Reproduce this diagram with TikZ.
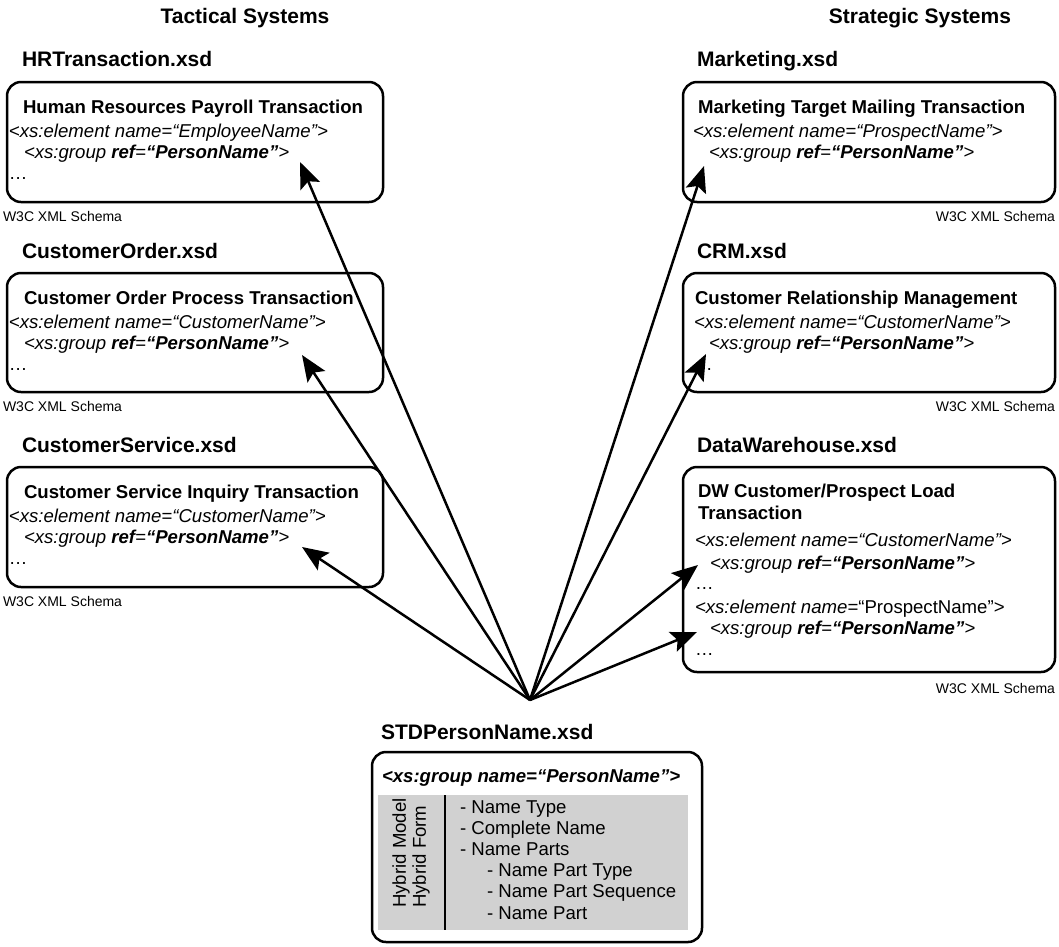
\documentclass[tikz,border=0pt]{standalone}
\usepackage{fontspec}
\setmainfont{Liberation Sans}
\usetikzlibrary{arrows.meta}

% recurring XML fragments
\newcommand\grpref{\textit{<xs:group \textbf{ref}=\textbf{“PersonName”}>}}
\newcommand\elemname[1]{\textit{<xs:element name=“#1”>}}

\begin{document}
\begin{tikzpicture}[x=1pt,y=-1pt,
  schemabox/.style={draw, line width=2.5pt, rounded corners=14pt, minimum width=372pt,
    inner sep=0, outer sep=0, anchor=north west},
  txt/.style={anchor=base west, inner sep=0, outer sep=0, font=\fontsize{18.6}{22}\selectfont},
  ttl/.style={txt, font=\bfseries\fontsize{18.6}{22}\selectfont},
  fname/.style={anchor=base west, inner sep=0, outer sep=0, font=\bfseries\fontsize{21}{25}\selectfont},
  sysname/.style={anchor=base, inner sep=0, outer sep=0, font=\bfseries\fontsize{21}{25}\selectfont},
  w3c/.style={inner sep=0, outer sep=0, font=\fontsize{14}{16}\selectfont},
  link/.style={line width=2.5pt, -{Stealth[length=26pt,width=21pt,inset=5pt]}},
]
\useasboundingbox (0,0) rectangle (1059,946);

% column headings
\node[sysname] (tac) at (245,23) {Tactical Systems};
\node[sysname] (str) at (920,23) {Strategic Systems};

% ---------- tactical systems (left column) ----------
\node[fname] (hrF) at (22,66) {HRTransaction.xsd};
\node[schemabox, minimum width=376pt, minimum height=120pt] (hr) at (7,82) {};
\node[ttl] (hrT) at (23,113) {Human Resources Payroll Transaction};
\node[txt] (hrE) at (9,137) {\elemname{EmployeeName}};
\node[txt] (hrG) at (24,158) {\grpref};
\node[txt] (hrD) at (9,179) {…};
\node[w3c, anchor=base west] (hrW) at (3,221) {W3C XML Schema};

\node[fname] (coF) at (22,258) {CustomerOrder.xsd};
\node[schemabox, minimum width=376pt, minimum height=119pt] (co) at (7,273) {};
\node[ttl] (coT) at (24,304) {Customer Order Process Transaction};
\node[txt] (coE) at (9,328) {\elemname{CustomerName}};
\node[txt] (coG) at (24,349) {\grpref};
\node[txt] (coD) at (9,370) {…};
\node[w3c, anchor=base west] (coW) at (3,411) {W3C XML Schema};

\node[fname] (csF) at (22,452) {CustomerService.xsd};
\node[schemabox, minimum width=376pt, minimum height=120pt] (cs) at (7,467) {};
\node[ttl] (csT) at (24,498) {Customer Service Inquiry Transaction};
\node[txt] (csE) at (9,522) {\elemname{CustomerName}};
\node[txt] (csG) at (24,543) {\grpref};
\node[txt] (csD) at (9,564) {…};
\node[w3c, anchor=base west] (csW) at (3,606) {W3C XML Schema};

% ---------- strategic systems (right column) ----------
\node[fname] (mkF) at (697,66) {Marketing.xsd};
\node[schemabox, minimum height=120pt] (mk) at (683,82) {};
\node[ttl] (mkT) at (698,113) {Marketing Target Mailing Transaction};
\node[txt] (mkE) at (693,137) {\elemname{ProspectName}};
\node[txt] (mkG) at (709,158) {\grpref};
\node[w3c, anchor=base east] (mkW) at (1055,221) {W3C XML Schema};

\node[fname] (crF) at (697,258) {CRM.xsd};
\node[schemabox, minimum height=119pt] (cr) at (683,273) {};
\node[ttl] (crT) at (695,304) {Customer Relationship Management};
\node[txt] (crE) at (694,328) {\elemname{CustomerName}};
\node[txt] (crG) at (709,349) {\grpref};
\node[txt] (crD) at (694,370) {…};
\node[w3c, anchor=base east] (crW) at (1055,411) {W3C XML Schema};

\node[fname] (dwF) at (697,452) {DataWarehouse.xsd};
\node[schemabox, minimum height=205pt] (dw) at (683,467) {};
\node[ttl] (dwT1) at (698,497) {DW Customer/Prospect Load};
\node[ttl] (dwT2) at (698,519) {Transaction};
\node[txt] (dwE1) at (695,546) {\elemname{CustomerName}};
\node[txt] (dwG1) at (710,569) {\grpref};
\node[txt] (dwD1) at (695,589) {…};
\node[txt] (dwE2) at (695,613) {\textit{<xs:element name=}“ProspectName”>};
\node[txt] (dwG2) at (710,634) {\grpref};
\node[txt] (dwD2) at (695,655) {…};
\node[w3c, anchor=base east] (dwW) at (1055,693) {W3C XML Schema};

% ---------- shared person-name schema ----------
\node[fname] (stdF) at (381,739) {STDPersonName.xsd};
\node[schemabox, minimum width=330pt, minimum height=190pt] (std) at (372,752) {};
\node[ttl] (stdT) at (382,782) {\textbf{\textit{<xs:group name=“PersonName”>}}};
\node[fill=black!18, inner sep=0, outer sep=0, minimum width=310pt, minimum height=135pt,
  anchor=north west] (form) at (378,795) {};
\draw[line width=1.2pt] (form.north west -| 445,0) coordinate (sepT) -- (form.south west -| 445,0) coordinate (sepB);
\node[rotate=90, anchor=west, align=left, inner sep=0, font=\fontsize{18.6}{20}\selectfont]
  (hyb) at (411,908) {Hybrid Model\\Hybrid Form};
\node[txt] (n1) at (460,813) {- Name Type};
\node[txt] (n2) at (460,834.2) {- Complete Name};
\node[txt] (n3) at (460,855.4) {- Name Parts};
\node[txt] (n4) at (487,876.6) {- Name Part Type};
\node[txt] (n5) at (487,897.8) {- Name Part Sequence};
\node[txt] (n6) at (487,919) {- Name Part};

% ---------- references from the shared group to each schema ----------
\coordinate (hub) at (530,700);
\coordinate (tHR) at (300,162);
\coordinate (tCO) at (302,355);
\coordinate (tCS) at (302,547);
\coordinate (tMK) at (704,166);
\coordinate (tCR) at (706,354);
\coordinate (tD1) at (698,565);
\coordinate (tD2) at (697,632);
\foreach \t in {tHR,tCO,tCS,tMK,tCR,tD1,tD2}
  \draw[link] (hub) -- (\t);

\end{tikzpicture}
\end{document}
